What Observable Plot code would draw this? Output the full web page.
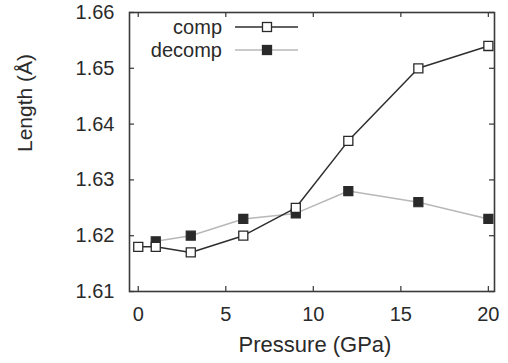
<!DOCTYPE html>
<html>
<head>
<meta charset="utf-8">
<script src="https://cdn.jsdelivr.net/npm/d3@7"></script>
<script src="https://cdn.jsdelivr.net/npm/@observablehq/plot@0.6"></script>
<style>
  html, body { margin: 0; padding: 0; background: #ffffff; }
  #chart { width: 508px; height: 363px; }
</style>
</head>
<body>
<div id="chart"></div>
<script>
const compPressure = [0, 1, 3, 6, 9, 12, 16, 20];
const compLength = [1.618, 1.618, 1.617, 1.620, 1.625, 1.637, 1.650, 1.654];
const decompPressure = [1, 3, 6, 9, 12, 16, 20];
const decompLength = [1.619, 1.620, 1.623, 1.624, 1.628, 1.626, 1.623];
const xTicks = [0, 5, 10, 15, 20];
const yTicks = [1.61, 1.62, 1.63, 1.64, 1.65, 1.66];
const seriesNames = ["comp", "decomp"];

const comp = compPressure.map((p, i) => ({p, l: compLength[i]}));
const decomp = decompPressure.map((p, i) => ({p, l: decompLength[i]}));

const ink = "#2a2a2a";
const compColor = "#2e2e2e";
const decompLine = "#b8b8b8";

function legend(index, scales, values, dimensions) {
  const g = d3.create("svg:g");
  const rows = [
    {name: seriesNames[0], y: 27, line: compColor, fill: "white", stroke: ink},
    {name: seriesNames[1], y: 50, line: decompLine, fill: ink, stroke: ink}
  ];
  for (const r of rows) {
    g.append("text").attr("x", 222).attr("y", r.y).attr("dy", "0.35em")
      .attr("text-anchor", "end").attr("font-size", 20).attr("fill", ink).text(r.name);
    g.append("line").attr("x1", 235).attr("x2", 298).attr("y1", r.y).attr("y2", r.y)
      .attr("stroke", r.line).attr("stroke-width", 1.5);
    g.append("rect").attr("x", 267 - 4.5).attr("y", r.y - 4.5).attr("width", 9).attr("height", 9)
      .attr("fill", r.fill).attr("stroke", r.stroke).attr("stroke-width", 1.3);
  }
  return g.node();
}

const chart = Plot.plot({
  width: 508,
  height: 363,
  marginLeft: 129,
  marginRight: 14,
  marginTop: 12,
  marginBottom: 72,
  style: {fontFamily: "'Liberation Sans', Arial, sans-serif", fontSize: "20px", color: ink, background: "white"},
  x: {domain: [-0.5, 20.35]},
  y: {domain: [1.61, 1.66]},
  marks: [
    Plot.axisX(xTicks, {tickSize: 0, tickPadding: 15, label: null, fontSize: 20, tickFormat: d => d3.format("d")(d)}),
    Plot.axisY(yTicks, {tickSize: 0, tickPadding: 15, label: null, fontSize: 20, tickFormat: d => d.toFixed(2)}),
    Plot.ruleX(xTicks, {x: d => d, insetTop: 274, stroke: "#444", strokeWidth: 1.3}),
    Plot.ruleX(xTicks, {x: d => d, insetBottom: 274, stroke: "#444", strokeWidth: 1.3}),
    Plot.ruleY(yTicks, {y: d => d, insetRight: 360, stroke: "#444", strokeWidth: 1.3}),
    Plot.ruleY(yTicks, {y: d => d, insetLeft: 360, stroke: "#444", strokeWidth: 1.3}),
    Plot.line(decomp, {x: "p", y: "l", stroke: decompLine, strokeWidth: 1.5}),
    Plot.line(comp, {x: "p", y: "l", stroke: compColor, strokeWidth: 1.5}),
    Plot.dot(decomp, {x: "p", y: "l", symbol: "square", r: 5.1, fill: ink, stroke: ink, strokeWidth: 1.2}),
    Plot.dot(comp, {x: "p", y: "l", symbol: "square", r: 5.1, fill: "white", stroke: ink, strokeWidth: 1.3}),
    Plot.frame({stroke: "#3a3a3a", strokeWidth: 1.6}),
    Plot.text(["Pressure (GPa)"], {frameAnchor: "bottom", dx: 3, dy: 60, fontSize: 22, fill: ink}),
    Plot.text(["Length (Å)"], {frameAnchor: "left", dx: -104, rotate: -90, fontSize: 21, fill: ink}),
    legend
  ]
});
document.getElementById("chart").appendChild(chart);
</script>
</body>
</html>
